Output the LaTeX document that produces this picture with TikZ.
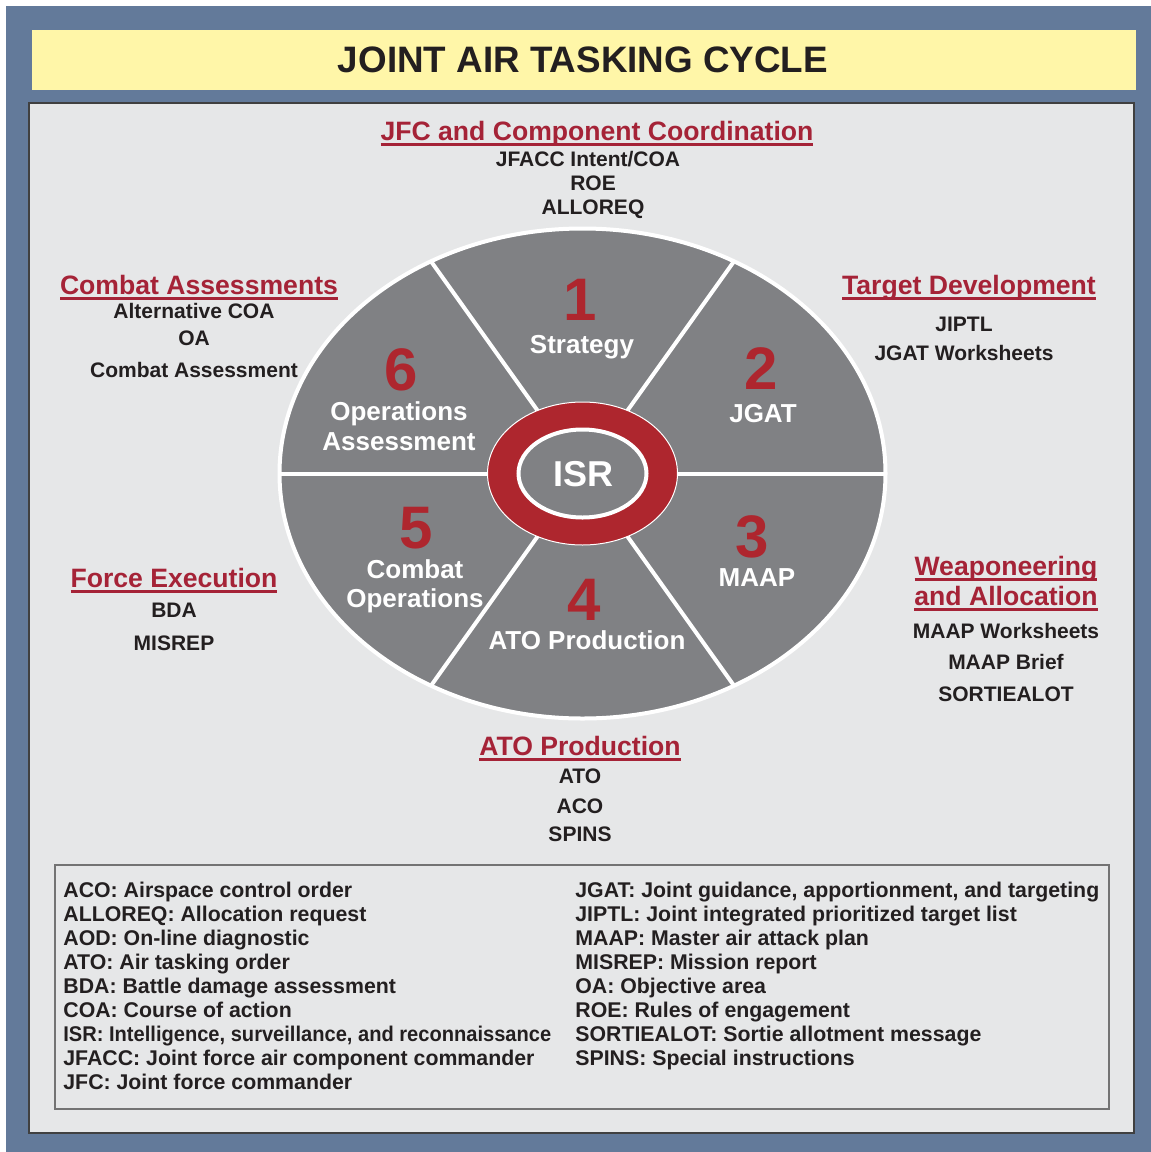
\documentclass[tikz,border=0pt]{standalone}
\usepackage{graphicx}
\usepackage{fontspec}
\setmainfont{Liberation Sans}

\definecolor{frameblue}{RGB}{99,122,154}
\definecolor{titleyellow}{RGB}{255,246,168}
\definecolor{panelgray}{RGB}{230,231,232}
\definecolor{wheelgray}{RGB}{128,129,132}
\definecolor{ringred}{RGB}{174,38,46}
\definecolor{headred}{RGB}{165,35,55}
\definecolor{inkblack}{RGB}{35,31,32}

% underlined heading text
\newsavebox\ulbox
\newcommand\uln[1]{\sbox\ulbox{#1}\rlap{\rule[-2.9pt]{\wd\ulbox}{1.3pt}}\usebox\ulbox}

\begin{document}
\begin{tikzpicture}[x=0.5pt,y=-0.5pt,
	heading/.style={font=\fontsize{13.3}{15}\selectfont\bfseries, text=headred, inner sep=0pt, anchor=base},
	item/.style={font=\fontsize{10.5}{12}\selectfont\bfseries, text=inkblack, inner sep=0pt, anchor=base},
	segnum/.style={font=\fontsize{30}{30}\selectfont\bfseries, text=ringred, inner sep=0pt, anchor=base},
	seglabel/.style={font=\fontsize{13}{15}\selectfont\bfseries, text=white, inner sep=0pt, anchor=base},
	legend/.style={font=\fontsize{10.65}{12}\selectfont\bfseries, text=inkblack, inner sep=0pt, anchor=base west},
	divider/.style={white, line width=2pt}]
	\useasboundingbox (0,0) rectangle (1151,1152);
	% frame, title bar and panel
	\fill[frameblue] (6,6) rectangle (1151,1152);
	\fill[titleyellow] (32,30) rectangle (1136,90);
	\node[font=\fontsize{18.4}{20}\selectfont\bfseries, text=inkblack, inner sep=0pt, anchor=base] (title) at (583,72) {JOINT AIR TASKING CYCLE};
	\filldraw[fill=panelgray, draw=black!75, line width=0.8pt] (29,103) rectangle (1134,1133);
	\draw[black!55, line width=0.7pt] (55,865) rectangle (1109,1109);

	% the wheel
	\coordinate (hub) at (582.5,473.5);
	\filldraw[fill=wheelgray, draw=white, line width=2pt] (hub) ellipse [x radius=303, y radius=245];
	\foreach \a in {0,60,...,300}
		\draw[divider] (hub) -- ++({303*cos(\a)},{245*sin(\a)});
	\filldraw[fill=ringred, draw=white, line width=0.5pt] (hub) ellipse [x radius=95, y radius=71.5];
	\filldraw[fill=wheelgray, draw=white, line width=2pt] (hub) ellipse [x radius=64, y radius=44];
	\node[font=\fontsize{18}{20}\selectfont\bfseries, text=white, inner sep=0pt, anchor=base] (isr) at (583,486) {ISR};

	\node[segnum] (num1) at (580,320) {1};
	\node[seglabel] (seg1) at (582,353) {Strategy};
	\node[segnum] (num2) at (761,389) {2};
	\node[seglabel] (seg2) at (763,422) {JGAT};
	\node[segnum] (num3) at (752,557) {3};
	\node[seglabel] (seg3) at (757,586) {MAAP};
	\node[segnum] (num4) at (584,620) {4};
	\node[seglabel] (seg4) at (587,649) {ATO Production};
	\node[segnum] (num5) at (416,548) {5};
	\node[seglabel] (seg5a) at (415,578) {Combat};
	\node[seglabel] (seg5b) at (415,607) {Operations};
	\node[segnum] (num6) at (401,390) {6};
	\node[seglabel] (seg6a) at (399,420) {Operations};
	\node[seglabel] (seg6b) at (399,450) {Assessment};

	% outer labels
	\node[heading] (jfc) at (597,140) {\uln{JFC and Component Coordination}};
	\node[item] (jfcA) at (588,166.5) {JFACC Intent/COA};
	\node[item] (jfcB) at (593,190.5) {ROE};
	\node[item] (jfcC) at (593,214.5) {ALLOREQ};

	\node[heading] (tgt) at (969,294) {\uln{Target Development}};
	\node[item] (tgtA) at (964,331.5) {JIPTL};
	\node[item] (tgtB) at (964,360.5) {JGAT Worksheets};

	\node[heading] (wpn) at (1006,575) {\uln{Weaponeering}};
	\node[heading] (wpnb) at (1006,605) {\uln{and Allocation}};
	\node[item] (wpnA) at (1006,638.5) {MAAP Worksheets};
	\node[item] (wpnB) at (1006,669.5) {MAAP Brief};
	\node[item] (wpnC) at (1006,701.5) {SORTIEALOT};

	\node[heading] (ato) at (580,755) {\uln{ATO Production}};
	\node[item] (atoA) at (580,783.5) {ATO};
	\node[item] (atoB) at (580,813.5) {ACO};
	\node[item] (atoC) at (580,841.5) {SPINS};

	\node[heading] (frc) at (174,587) {\uln{Force Execution}};
	\node[item] (frcA) at (174,617.5) {BDA};
	\node[item] (frcB) at (174,650.5) {MISREP};

	\node[heading] (cba) at (199,294) {\uln{Combat Assessments}};
	\node[item] (cbaA) at (194,318.5) {Alternative COA};
	\node[item] (cbaB) at (194,345.5) {OA};
	\node[item] (cbaC) at (194,377.5) {Combat Assessment};

	% legend
	\foreach \t [count=\i] in {ACO: Airspace control order, ALLOREQ: Allocation request,
		AOD: On-line diagnostic, ATO: Air tasking order, BDA: Battle damage assessment,
		COA: Course of action, {\scalebox{0.943}[1]{ISR: Intelligence, surveillance, and reconnaissance}},
		JFACC: Joint force air component commander, JFC: Joint force commander}
		\node[legend] (legl\i) at (63,{897+24*(\i-1)}) {\t};
	\foreach \t [count=\i] in {{JGAT: Joint guidance, apportionment, and targeting},
		JIPTL: Joint integrated prioritized target list, MAAP: Master air attack plan,
		MISREP: Mission report, OA: Objective area, ROE: Rules of engagement,
		SORTIEALOT: Sortie allotment message, SPINS: Special instructions}
		\node[legend] (legr\i) at (575,{897+24*(\i-1)}) {\t};
\end{tikzpicture}
\end{document}
